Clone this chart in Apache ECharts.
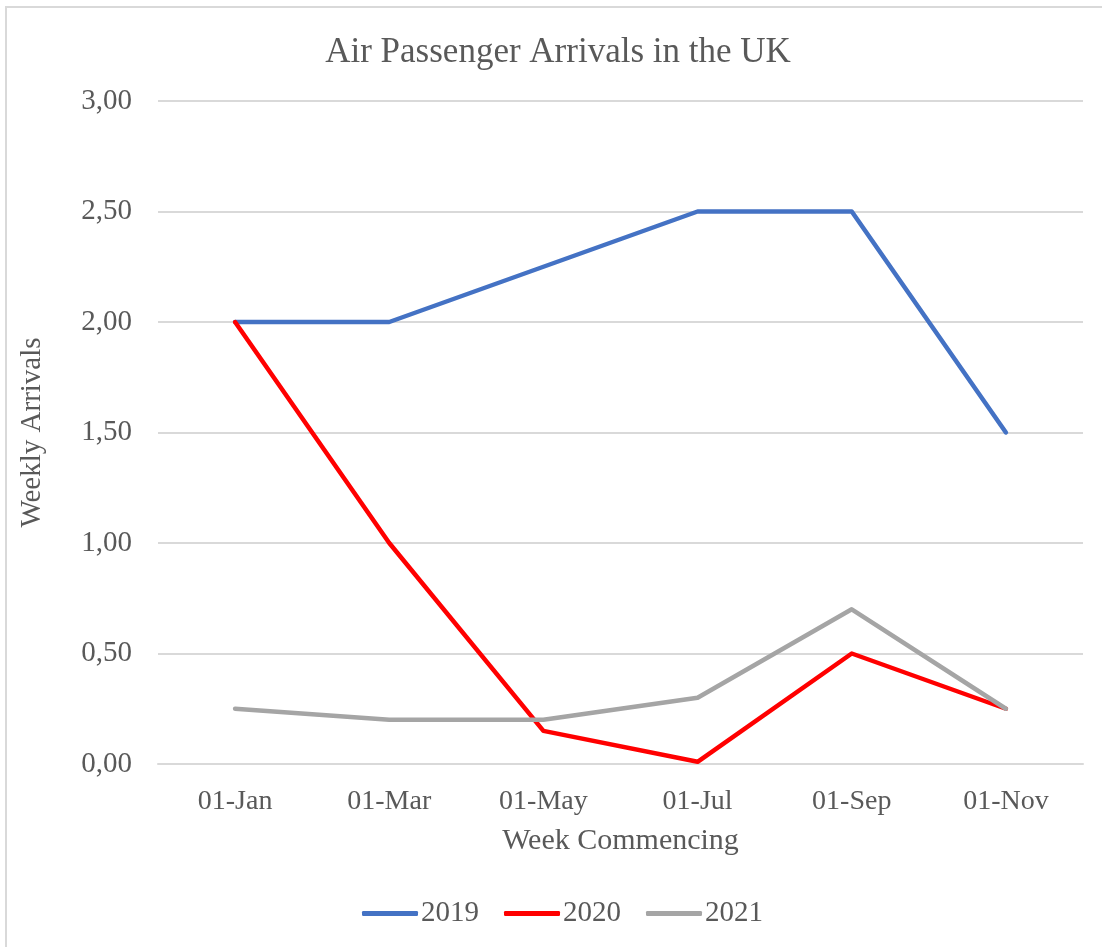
<!DOCTYPE html>
<html>
<head>
<meta charset="utf-8">
<script src="https://cdn.jsdelivr.net/npm/echarts@6/dist/echarts.min.js"></script>
<style>
  html, body { margin: 0; padding: 0; background: #fff; }
  #chart { width: 1102px; height: 947px; }
</style>
</head>
<body>
<div id="chart"></div>
<script>
const categories = ['01-Jan', '01-Mar', '01-May', '01-Jul', '01-Sep', '01-Nov'];
const seriesNames = ['2019', '2020', '2021'];
const data2019 = [2.0, 2.0, 2.25, 2.5, 2.5, 1.5];
const data2020 = [2.0, 1.0, 0.15, 0.01, 0.5, 0.25];
const data2021 = [0.25, 0.2, 0.2, 0.3, 0.7, 0.25];
const colors = ['#4472C4', '#FF0000', '#A5A5A5'];

const font = '"Liberation Serif", "Times New Roman", serif';
const textColor = '#595959';

const chart = echarts.init(document.getElementById('chart'));

const makeLine = (name, data, color) => ({
    name: name,
    type: 'line',
    data: data,
    symbol: 'none',
    smooth: false,
    lineStyle: { color: color, width: 4.5, cap: 'round', join: 'round' },
    itemStyle: { color: color },
    emphasis: { disabled: true },
});

const option = {
    animation: false,
    title: {
        text: 'Air Passenger Arrivals in the UK',
        left: 553,
        textAlign: 'center',
        top: 30,
        textStyle: { fontFamily: font, fontSize: 35, fontWeight: 'normal', color: textColor },
    },
    legend: {
        bottom: 14,
        left: 357,
        data: seriesNames,
        icon: 'roundRect',
        itemWidth: 56,
        itemHeight: 5,
        itemGap: 25,
        textStyle: { fontFamily: font, fontSize: 29, color: textColor, padding: [0, 0, 0, -2] },
    },
    grid: { left: 158, right: 19, top: 101, bottom: 183, containLabel: false },
    xAxis: {
        type: 'category',
        data: categories,
        boundaryGap: true,
        name: 'Week Commencing',
        nameLocation: 'middle',
        nameGap: 62,
        nameTextStyle: { fontFamily: font, fontSize: 30, color: textColor, verticalAlign: 'top' },
        axisLine: { show: true, lineStyle: { color: '#d9d9d9', width: 2 } },
        axisTick: { show: false },
        axisLabel: { fontFamily: font, fontSize: 28, color: textColor, margin: 24 },
        splitLine: { show: false },
    },
    yAxis: {
        type: 'value',
        min: 0,
        max: 3,
        interval: 0.5,
        name: 'Weekly Arrivals',
        nameLocation: 'middle',
        nameGap: 111,
        nameTextStyle: { fontFamily: font, fontSize: 29, color: textColor },
        axisLine: { show: false },
        axisTick: { show: false },
        axisLabel: {
            fontFamily: font, fontSize: 29, color: textColor, margin: 26,
            formatter: v => v.toFixed(2).replace('.', ','),
        },
        splitLine: { lineStyle: { color: '#d9d9d9', width: 2 } },
    },
    graphic: [{
        type: 'rect',
        silent: true,
        shape: { x: 6, y: 7, width: 1200, height: 1200 },
        style: { fill: 'none', stroke: '#d9d9d9', lineWidth: 2 },
    }],
    series: [
        makeLine(seriesNames[0], data2019, colors[0]),
        makeLine(seriesNames[1], data2020, colors[1]),
        makeLine(seriesNames[2], data2021, colors[2]),
    ],
};

chart.setOption(option);
window.addEventListener('resize', () => chart.resize());
</script>
</body>
</html>
